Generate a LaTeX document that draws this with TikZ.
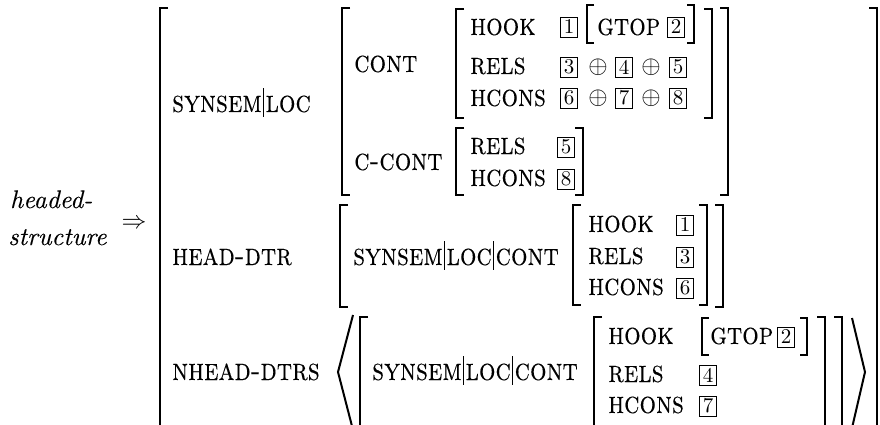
\documentclass[tikz,border=0pt]{standalone}
\usepackage{amssymb}
\usepackage{fontspec}
\newfontfamily\rmten{lmroman10-regular.otf}
\newfontfamily\itten{lmroman10-italic.otf}[FakeBold=0.15]
\newfontfamily\scten{lmromancaps10-regular.otf}[FakeBold=0.25]
\newcommand\pbar{\kern1.5pt\rule[-4pt]{0.8pt}{24pt}\kern1.5pt}
\newcommand\tsc[1]{\scalebox{1}[1.2]{#1}}
\begin{document}
\begin{tikzpicture}[x=1pt,y=-1pt,
  lab/.style={anchor=base west,inner sep=0pt,font=\scten\fontsize{26}{31}\selectfont},
  itl/.style={anchor=base west,inner sep=0pt,font=\itten\fontsize{25.5}{31}\selectfont},
  tagbox/.style={draw,line width=0.8pt,inner sep=0pt,minimum width=17pt,minimum height=20pt,font=\rmten\fontsize{21}{26}\selectfont},
  opl/.style={inner sep=0pt,font=\fontsize{30}{34}\selectfont},
  brk/.style={line width=2.8pt,line cap=butt,line join=miter},
  sbrk/.style={line width=2.2pt,line cap=butt,line join=miter},
  ang/.style={line width=2pt,line join=miter}]
\useasboundingbox (0,0) rectangle (880,425);
\clip (0,0) rectangle (880,425);
% type
\node[itl] (t1) at (10,208) {headed-};
\node[itl] (t2) at (8,245) {structure};
\node[inner sep=0pt,font=\fontsize{24}{28}\selectfont] (arr) at (134,224) {$\Rightarrow$};
% outer brackets
\draw[brk] (168,8) -- (160,8) -- (160,440);
\draw[brk] (869,8) -- (877,8) -- (877,440);
% ---------- row 1
\node[lab] (sl) at (172,112) {\tsc{synsem\pbar loc}};
\draw[brk] (350,8) -- (342,8) -- (342,195) -- (350,195);
\draw[brk] (720,8) -- (728,8) -- (728,195) -- (720,195);
\node[lab] (cont) at (354,72) {\tsc{cont}};
\node[lab] (ccont) at (354,170) {\tsc{c-cont}};
% CONT value
\draw[brk] (464,9) -- (456,9) -- (456,118) -- (464,118);
\draw[brk] (704,9) -- (712,9) -- (712,118) -- (704,118);
\node[lab] (hook1) at (470,35) {\tsc{hook}};
\node[tagbox] (b1a) at (569,27) {1};
\draw[sbrk] (594,5) -- (587,5) -- (587,43) -- (594,43);
\draw[sbrk] (687,5) -- (694,5) -- (694,43) -- (687,43);
\node[lab] (gtop1) at (597,35) {\tsc{gtop}};
\node[tagbox] (b2a) at (676,27) {2};
\node[lab] (rels1) at (470,74) {\tsc{rels}};
\node[tagbox] (b3a) at (569,67) {3};
\node[opl] (o1) at (598,67) {$\oplus$};
\node[tagbox] (b4a) at (624,67) {4};
\node[opl] (o2) at (651,67) {$\oplus$};
\node[tagbox] (b5a) at (678,67) {5};
\node[lab] (hcons1) at (470,106) {\tsc{hcons}};
\node[tagbox] (b6a) at (569,98) {6};
\node[opl] (o3) at (598,98) {$\oplus$};
\node[tagbox] (b7a) at (624,98) {7};
\node[opl] (o4) at (651,98) {$\oplus$};
\node[tagbox] (b8a) at (678,98) {8};
% C-CONT value
\draw[brk] (464,128) -- (456,128) -- (456,195) -- (464,195);
\draw[brk] (575,128) -- (583,128) -- (583,195) -- (575,195);
\node[lab] (rels2) at (470,154) {\tsc{rels}};
\node[tagbox] (b5b) at (566,147) {5};
\node[lab] (hcons2) at (470,186) {\tsc{hcons}};
\node[tagbox] (b8b) at (566,179) {8};
% ---------- row 2
\node[lab] (hd) at (172,265) {\tsc{head-dtr}};
\draw[brk] (348,205) -- (340,205) -- (340,307) -- (348,307);
\draw[brk] (715,205) -- (723,205) -- (723,307) -- (715,307);
\node[lab] (slc2) at (353,265) {\tsc{synsem\pbar loc\pbar cont}};
\draw[brk] (581,205) -- (573,205) -- (573,305) -- (581,305);
\draw[brk] (699,205) -- (707,205) -- (707,305) -- (699,305);
\node[lab] (hook3) at (588,232) {\tsc{hook}};
\node[tagbox] (b1b) at (685,225) {1};
\node[lab] (rels3) at (588,264) {\tsc{rels}};
\node[tagbox] (b3b) at (685,257) {3};
\node[lab] (hcons3) at (588,295) {\tsc{hcons}};
\node[tagbox] (b6b) at (685,288) {6};
% ---------- row 3
\node[lab] (nhd) at (172,380) {\tsc{nhead-dtrs}};
\draw[ang] (353,315) -- (338,372) -- (353,430);
\draw[brk] (368,317) -- (360,317) -- (360,440);
\draw[brk] (834,317) -- (842,317) -- (842,440);
\node[lab] (slc3) at (372,380) {\tsc{synsem\pbar loc\pbar cont}};
\draw[brk] (602,317) -- (594,317) -- (594,440);
\draw[brk] (817,317) -- (825,317) -- (825,440);
\draw[ang] (852,318) -- (865,372) -- (852,428);
\node[lab] (hook4) at (608,344) {\tsc{hook}};
\draw[sbrk] (709,318) -- (702,318) -- (702,355) -- (709,355);
\draw[sbrk] (800,318) -- (807,318) -- (807,355) -- (800,355);
\node[lab] (gtop4) at (710,344) {\tsc{gtop}};
\node[tagbox] (b2b) at (786,337) {2};
\node[lab] (rels4) at (608,382) {\tsc{rels}};
\node[tagbox] (b4b) at (708,375) {4};
\node[lab] (hcons4) at (608,413) {\tsc{hcons}};
\node[tagbox] (b7b) at (708,406) {7};
\end{tikzpicture}
\end{document}
